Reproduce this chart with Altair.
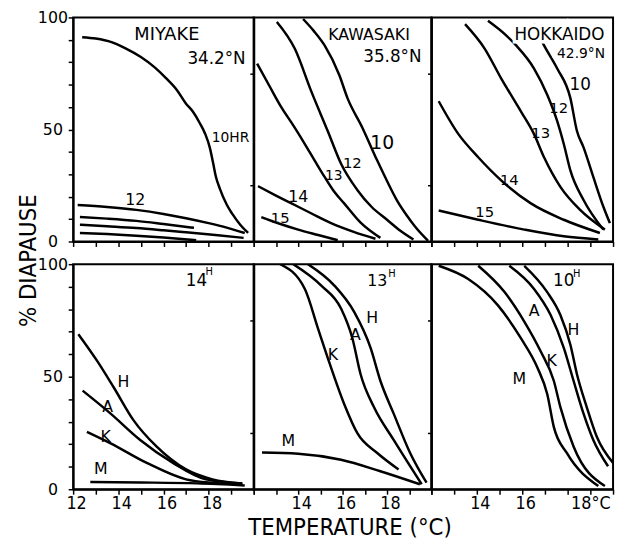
import altair as alt
import pandas as pd

# ---------------- data (temperature °C, % diapause) ----------------
miy_10_t = [12.4, 13.0, 13.7, 14.3, 15.0, 15.6, 16.1, 16.6, 17.0, 17.3, 17.6, 17.85, 18.05, 18.2, 18.32, 18.5, 18.8, 19.05, 19.4, 19.75]
miy_10_v = [91.2, 90.6, 89, 86.3, 82.3, 77.8, 73, 67.5, 61.5, 58, 53, 48, 42, 35, 29, 23.5, 16.5, 12.3, 7.5, 3.8]
miy_12_t = [12.2, 13.5, 14.8, 16.0, 17.0, 18.0, 18.8, 19.6]
miy_12_v = [16.3, 15.4, 14.1, 12.3, 10.4, 8.2, 6.2, 3.8]
miy_13_t = [12.3, 13.5, 14.8, 16.0, 17.35]
miy_13_v = [10.9, 10.2, 9.2, 7.8, 6.1]
miy_14_t = [12.3, 13.5, 14.8, 16.0, 17.0, 18.3, 19.55]
miy_14_v = [7.5, 6.8, 6.0, 5.0, 4.1, 2.9, 1.6]
miy_15_t = [12.3, 13.5, 14.8, 16.0, 17.45]
miy_15_v = [3.8, 3.3, 2.6, 1.8, 0.6]

kaw_10_t = [14.22, 14.7, 15.19, 15.85, 16.22, 16.89, 17.56, 18.0, 18.44, 18.9, 19.26, 19.85]
kaw_10_v = [99.3, 94, 87.5, 74.3, 64, 50.8, 36.1, 27, 18.5, 11.5, 6.7, 0.3]
kaw_12_t = [13.04, 13.85, 14.59, 15.33, 15.93, 16.67, 17.3, 18.0, 18.6, 19.19]
kaw_12_v = [98, 86, 67, 49.3, 34.7, 22.9, 15.5, 9.7, 4.8, 0.9]
kaw_13_t = [12.15, 12.7, 13.26, 13.8, 14.3, 14.75, 15.19, 15.6, 16.07, 16.8, 17.7]
kaw_13_v = [79.4, 69.5, 59.6, 51.5, 43.5, 36, 28.8, 22.5, 17, 8.5, 1.6]
kaw_14_t = [12.19, 13.0, 13.7, 14.6, 15.48, 16.5, 17.48]
kaw_14_v = [24.7, 20.5, 17, 12.5, 8.2, 4.3, 1.2]
kaw_15_t = [12.34, 13.2, 14.0, 14.9, 15.78]
kaw_15_v = [10.9, 7.8, 5.3, 2.9, 0.6]

hok_10_t = [16.5, 16.96, 17.54, 18.12, 18.41, 18.7, 19.13, 19.57, 19.86]
hok_10_v = [97, 87.5, 77.2, 64, 49.3, 42, 28.8, 15.6, 8.2]
hok_12_t = [14.49, 15.29, 15.73, 16.52, 17.1, 17.54, 17.83, 18.12, 18.7, 19.57]
hok_12_v = [98.5, 92, 87.5, 77.2, 65.5, 53.7, 43.5, 31.7, 18.5, 5.3]
hok_13_t = [13.48, 14.35, 15.07, 15.94, 16.52, 16.96, 17.68, 18.55, 19.64]
hok_13_v = [97, 86, 72.8, 58.1, 47.9, 37.6, 24.4, 14.1, 5.3]
hok_14_t = [12.32, 13.19, 14.06, 15.07, 16.38, 17.83, 19.42]
hok_14_v = [62.6, 47.9, 37.6, 27.3, 17, 9.7, 3.8]
hok_15_t = [12.32, 14.06, 16.09, 17.83, 19.35]
hok_15_v = [13.8, 9.7, 5.3, 2.3, 0.9]

p14_H_t = [12.23, 13.07, 13.8, 14.67, 15.69, 17.0, 18.17, 19.48]
p14_H_v = [68.9, 56.9, 45.2, 30.7, 19, 8.8, 4.4, 2.6]
p14_A_t = [12.42, 13.66, 14.97, 16.42, 17.88, 19.5]
p14_A_v = [43.8, 33.6, 21.9, 11.7, 4.4, 2.6]
p14_K_t = [12.61, 13.66, 15.26, 17.0, 18.3, 19.5]
p14_K_v = [25.5, 20.4, 11.7, 4.4, 2.8, 2.0]
p14_M_t = [12.76, 15.0, 17.5, 19.6]
p14_M_v = [3.2, 3.0, 2.6, 1.7]

p13_H_t = [14.44, 15.63, 16.52, 17.26, 17.7, 18.3, 19.04, 19.78]
p13_H_v = [100, 90.5, 78.8, 62.8, 48.2, 33.6, 16.1, 2.9]
p13_A_t = [13.78, 15.04, 15.93, 16.44, 16.81, 17.41, 18.3, 19.56]
p13_A_v = [100, 90.5, 80.3, 67.1, 51.1, 36.5, 21.9, 2.2]
p13_K_t = [13.19, 14.3, 14.89, 15.33, 16.07, 16.67, 17.56, 18.52]
p13_K_v = [100, 89, 71.5, 58.4, 37.9, 24.8, 16.1, 8.8]
p13_M_t = [12.37, 14.0, 15.93, 17.7, 19.48]
p13_M_v = [16.3, 15.8, 13.1, 8, 2.2]

p10_M_t = [12.32, 13.62, 14.93, 15.94, 16.67, 17.1, 17.39, 17.97, 19.35]
p10_M_v = [99.3, 93.4, 81.7, 67.1, 54, 42.3, 27.7, 16, 1.4]
p10_K_t = [14.06, 15.22, 16.09, 16.81, 17.39, 17.68, 18.26, 19.64]
p10_K_v = [99.3, 87.6, 74.5, 61.3, 48.2, 36.5, 19, 1.4]
p10_A_t = [15.43, 16.52, 17.25, 17.83, 18.26, 18.7, 19.13, 19.78]
p10_A_v = [99.3, 89, 77.4, 62.8, 48.2, 33.6, 21.9, 10.2]
p10_H_t = [16.09, 17.1, 17.68, 18.12, 18.41, 18.84, 19.28, 20.0]
p10_H_v = [99.3, 87.6, 77.4, 64.2, 51.1, 36.5, 23.4, 11.7]

miy_lab_text = ["12", "10HR"]
miy_lab_t = [14.75, 18.97]
miy_lab_v = [18.5, 46]
miy_head = ["MIYAKE", "34.2°N"]
miy_head_t = [16.15, 18.35]
miy_head_v = [92, 81.5]

kaw_lab_text = ["10", "12", "13", "14", "15"]
kaw_lab_t = [17.78, 16.44, 15.6, 14.0, 13.19]
kaw_lab_v = [44, 35.2, 29, 20, 10.5]
kaw_head = ["KAWASAKI", "35.8°N"]
kaw_head_t = [17.19, 18.24]
kaw_head_v = [92, 82.4]

hok_lab_text = ["10", "12", "13", "14", "15"]
hok_lab_t = [18.55, 17.61, 16.81, 15.43, 14.35]
hok_lab_v = [70, 59.5, 48.5, 27.3, 13.2]
hok_head = ["HOKKAIDO", "42.9°N"]
hok_head_t = [17.64, 18.59]
hok_head_v = [92, 83.7]

p14_lab_text = ["14", "H", "H", "A", "K", "M"]
p14_lab_t = [17.46, 18.03, 14.23, 13.53, 13.44, 13.22]
p14_lab_v = [92.5, 96.5, 47.4, 36.5, 23.4, 8.9]

p13_lab_text = ["13", "H", "H", "A", "K", "M"]
p13_lab_t = [17.56, 18.22, 17.33, 16.58, 15.56, 13.56]
p13_lab_v = [92.5, 95.6, 75.9, 68.5, 59.8, 21.2]

p10_lab_text = ["10", "H", "A", "H", "K", "M"]
p10_lab_t = [17.83, 18.4, 16.52, 18.26, 17.3, 15.87]
p10_lab_v = [92.5, 95.6, 79, 70.7, 57, 48.8]

x_ticks = [12, 13, 14, 15, 16, 17, 18, 19, 20]
y_ticks = [0, 10, 20, 30, 40, 50, 60, 70, 80, 90, 100]

# ---------------- styles ----------------
LABEL_SIZES = {
    "miy": [16, 14], "kaw": [19, 15, 14, 16, 15], "hok": [17, 15, 15, 15, 15],
    "p14": [17, 10, 16, 16, 16, 16], "p13": [16, 10, 16, 16, 16, 16], "p10": [17, 10, 16, 16, 16, 16],
}
HEAD_SIZES = {"miy": [18, 17], "kaw": [16, 17], "hok": [17, 14]}
TXT_FONT = "DejaVu Sans"
NARROW = "Liberation Sans Narrow, DejaVu Sans Condensed, DejaVu Sans"


def curves_df(pairs):
    rows = []
    for name, ts, vs in pairs:
        for t, v in zip(ts, vs):
            rows.append({"curve": name, "T": t, "v": v})
    return pd.DataFrame(rows)


def labels_df(texts, ts, vs, sizes):
    return pd.DataFrame({"text": texts, "T": ts, "v": vs, "fs": sizes})


XS = alt.Scale(domain=[12, 20], nice=False, zero=False)
YS = alt.Scale(domain=[0, 100], nice=False)

common_axis = dict(tickColor="black", tickWidth=1.5, tickSize=5, domainColor="black",
                   domainWidth=2, grid=False, labelColor="black", labelFlush=False,
                   labelOverlap=False)


def y_axis_left(title=None):
    kw = dict(common_axis)
    kw.update(values=y_ticks, labelExpr="datum.value % 50 == 0 ? datum.label : ''",
              labelFont=TXT_FONT, labelFontSize=16, labelAlign="center",
              labelBaseline="middle", labelPadding=16)
    if title:
        kw.update(title=title, titleFont=NARROW, titleFontSize=24, titleFontWeight="normal",
                  titleColor="black", titleX=-38, titleY=246, titleAlign="center",
                  titleBaseline="alphabetic", titleAngle=270)
    else:
        kw.update(title=None)
    return alt.Axis(**kw)


def y_axis_inner():
    kw = dict(common_axis)
    kw.update(values=[25, 75], labels=False, title=None, tickSize=4)
    return alt.Axis(**kw)


def x_axis_top():
    kw = dict(common_axis)
    kw.update(values=x_ticks, labels=False, title=None)
    return alt.Axis(**kw)


def x_axis_bottom(expr, title=None, align=None):
    kw = dict(common_axis)
    kw.update(values=x_ticks, labelExpr=expr, labelFont=NARROW, labelFontSize=18,
              labelPadding=1, labelOffset=3)
    if align is not None:
        kw.update(labelAlign=align)
    if title:
        kw.update(title=title, titleFont=NARROW, titleFontSize=24, titleFontWeight="normal",
                  titleColor="black", titleY=46, titleX=97, titleAlign="center",
                  titleBaseline="alphabetic")
    else:
        kw.update(title=None)
    return alt.Axis(**kw)


def panel(curves, labs, heads, width, height, xaxis, yaxis):
    X = alt.X("T:Q", scale=XS, axis=xaxis)
    Y = alt.Y("v:Q", scale=YS, axis=yaxis)
    lines = alt.Chart(curves).mark_line(
        color="black", strokeWidth=2.5, interpolate="monotone", clip=True
    ).encode(x=X, y=Y, detail="curve:N")

    def tl(df, **mk):
        return alt.Chart(df).mark_text(font=TXT_FONT, align="center", baseline="middle", **mk).encode(
            x=X, y=Y, text="text:N", size=alt.Size("fs:Q", scale=None))

    layers = [lines]
    if heads is not None:
        layers.append(tl(heads, color="white", stroke="white", strokeWidth=7))
        layers.append(tl(heads, color="black"))
    layers.append(tl(labs, color="black"))
    return alt.layer(*layers).properties(width=width, height=height)


W = [183, 180, 184]
H_TOP, H_BOT = 227, 228

miy = panel(
    curves_df([("10", miy_10_t, miy_10_v), ("12", miy_12_t, miy_12_v), ("13", miy_13_t, miy_13_v),
               ("14", miy_14_t, miy_14_v), ("15", miy_15_t, miy_15_v)]),
    labels_df(miy_lab_text, miy_lab_t, miy_lab_v, LABEL_SIZES["miy"]),
    labels_df(miy_head, miy_head_t, miy_head_v, HEAD_SIZES["miy"]),
    W[0], H_TOP, x_axis_top(), y_axis_left("% DIAPAUSE"))

kaw = panel(
    curves_df([("10", kaw_10_t, kaw_10_v), ("12", kaw_12_t, kaw_12_v), ("13", kaw_13_t, kaw_13_v),
               ("14", kaw_14_t, kaw_14_v), ("15", kaw_15_t, kaw_15_v)]),
    labels_df(kaw_lab_text, kaw_lab_t, kaw_lab_v, LABEL_SIZES["kaw"]),
    labels_df(kaw_head, kaw_head_t, kaw_head_v, HEAD_SIZES["kaw"]),
    W[1], H_TOP, x_axis_top(), y_axis_inner())

hok = panel(
    curves_df([("10", hok_10_t, hok_10_v), ("12", hok_12_t, hok_12_v), ("13", hok_13_t, hok_13_v),
               ("14", hok_14_t, hok_14_v), ("15", hok_15_t, hok_15_v)]),
    labels_df(hok_lab_text, hok_lab_t, hok_lab_v, LABEL_SIZES["hok"]),
    labels_df(hok_head, hok_head_t, hok_head_v, HEAD_SIZES["hok"]),
    W[2], H_TOP, x_axis_top(), y_axis_inner())

p14 = panel(
    curves_df([("H", p14_H_t, p14_H_v), ("A", p14_A_t, p14_A_v), ("K", p14_K_t, p14_K_v),
               ("M", p14_M_t, p14_M_v)]),
    labels_df(p14_lab_text, p14_lab_t, p14_lab_v, LABEL_SIZES["p14"]), None,
    W[0], H_BOT,
    x_axis_bottom("datum.value == 12 || datum.value == 14 || datum.value == 16 || datum.value == 18 ? datum.label : ''"),
    y_axis_left())

p13 = panel(
    curves_df([("H", p13_H_t, p13_H_v), ("A", p13_A_t, p13_A_v), ("K", p13_K_t, p13_K_v),
               ("M", p13_M_t, p13_M_v)]),
    labels_df(p13_lab_text, p13_lab_t, p13_lab_v, LABEL_SIZES["p13"]), None,
    W[1], H_BOT,
    x_axis_bottom("datum.value == 14 || datum.value == 16 || datum.value == 18 ? datum.label : ''",
                  title="TEMPERATURE (°C)"),
    y_axis_inner())

p10 = panel(
    curves_df([("M", p10_M_t, p10_M_v), ("K", p10_K_t, p10_K_v), ("A", p10_A_t, p10_A_v),
               ("H", p10_H_t, p10_H_v)]),
    labels_df(p10_lab_text, p10_lab_t, p10_lab_v, LABEL_SIZES["p10"]), None,
    W[2], H_BOT,
    x_axis_bottom("datum.value == 18 ? '18°C' : (datum.value == 14 || datum.value == 16 ? datum.label : '')",
                  align={"condition": {"test": "datum.value == 18", "value": "left"}, "value": "center"}),
    y_axis_inner())

chart = alt.concat(miy, kaw, hok, p14, p13, p10, columns=3,
                   spacing={"row": 23, "column": 0}, bounds="flush").properties(
    padding={"left": 8, "top": -3, "right": 0, "bottom": 5}, background="white"
).configure_view(stroke="black", strokeWidth=2)

chart.save("out.html", embed_options={"renderer": "svg", "actions": False})
